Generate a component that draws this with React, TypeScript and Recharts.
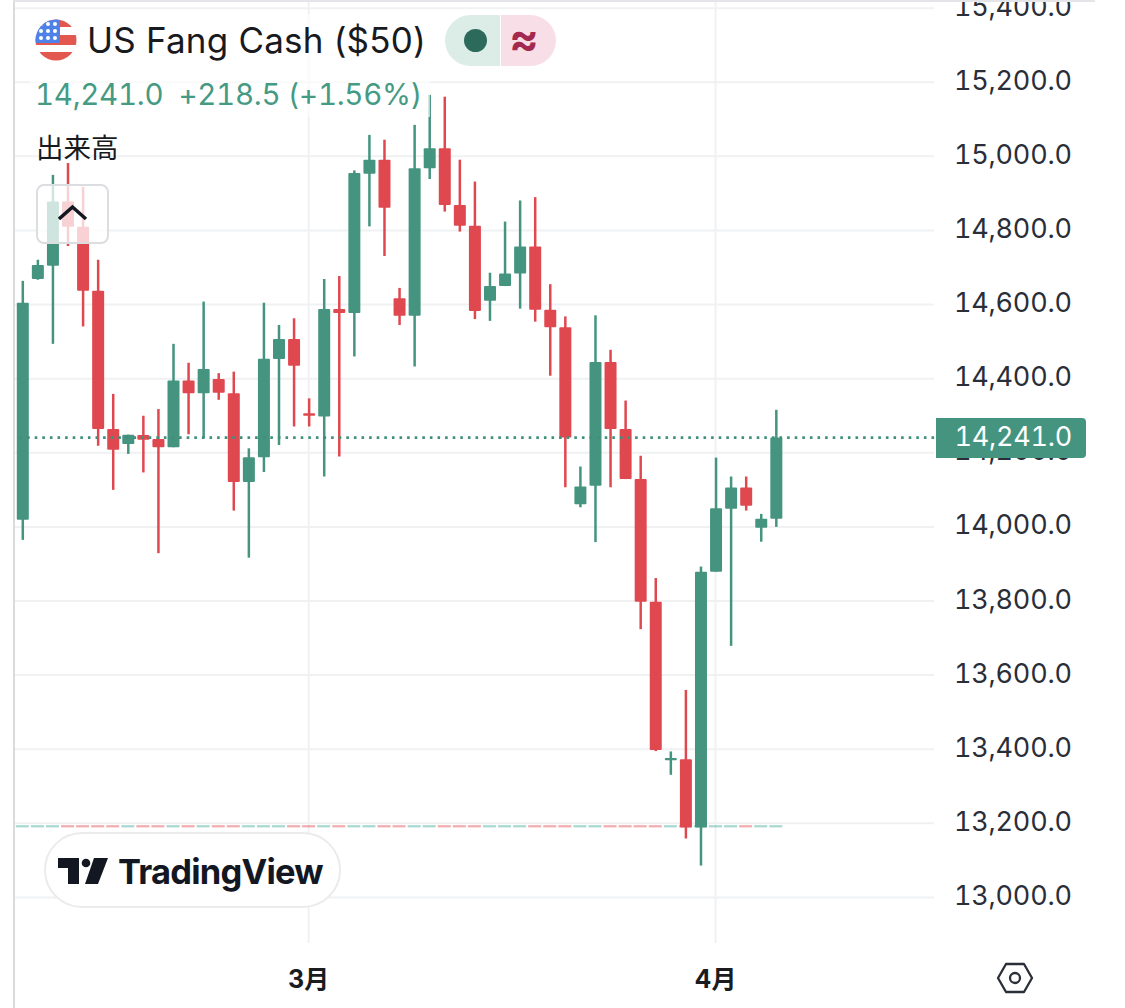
import React from 'react';
import { ComposedChart, Bar, XAxis, YAxis, CartesianGrid, ReferenceLine } from 'recharts';

const opens = [14019,14669,14705,14878,14810,14637,14264,14224,14248,14237,14215,14395,14361,14399,14361,14121,14188,14453,14507,14307,14298,14588,14577,14953,14991,14617,14570,14968,15022,14869,14813,14610,14650,14684,14757,14586,14539,14061,14111,14445,14264,14129,13798,13370,13373,13189,13879,14049,14106,13998,14022];
const highs = [14664,14721,14950,14982,14918,14721,14359,14249,14300,14318,14494,14443,14608,14415,14419,14212,14605,14545,14563,14347,14669,14677,14962,15058,15045,14645,15085,15166,15161,14991,14932,14686,14824,14881,14890,14655,14568,14163,14571,14478,14341,14192,13862,13394,13560,13893,14187,14136,14136,14035,14316];
const lows = [13965,14667,14494,14758,14541,14219,14100,14197,14147,13929,14215,14250,14239,14343,14044,13917,14148,14221,14271,14271,14136,14190,14460,14811,14731,14545,14433,14939,14851,14797,14561,14556,14650,14589,14554,14408,14107,14053,13959,14107,14129,13724,13395,13331,13159,13086,13879,13679,14044,13960,14000];
const closes = [14605,14707,14878,14810,14637,14264,14208,14249,14235,14215,14395,14361,14426,14362,14121,14188,14454,14507,14435,14300,14588,14577,14955,14991,14861,14570,14968,15022,14869,14813,14583,14650,14684,14757,14586,14539,14241,14109,14445,14264,14129,13798,13398,13376,13189,13879,14050,14106,14057,14022,14241];
const emptyBars = 10;
const priceTicks = [13000,13200,13400,13600,13800,14000,14200,14400,14600,14800,15000,15200,15400];
const monthTickIndexes = [19, 46];
const monthTickLabels = ['3月', '4月'];
const volumeBand = [13189, 13195];
const lastPrice = 14241;
const lastPriceLabel = '14,241.0';
const titleText = 'US Fang Cash ($50)';
const quoteText = '14,241.0  +218.5 (+1.56%)';
const volumeLabel = '出来高';
const brandText = 'TradingView';

const GREEN = '#45947F';
const RED = '#E04850';
const FONT = 'Inter, Roboto, sans-serif';

const rows = [
  ...opens.map((o, i) => ({ i, o, h: highs[i], l: lows[i], c: closes[i] })),
  ...Array.from({ length: emptyBars }, (_, k) => ({ i: opens.length + k } as any)),
];

const Candle = (props: any) => {
  const { x, y, width, height, payload } = props;
  if (payload == null || payload.o == null) return null;
  const top = Math.min(y, y + height);
  const h = Math.abs(height);
  const up = payload.c >= payload.o;
  const color = up ? GREEN : RED;
  const span = payload.h - payload.l || 1;
  const bodyHigh = Math.max(payload.o, payload.c);
  const bodyLow = Math.min(payload.o, payload.c);
  const by = top + ((payload.h - bodyHigh) / span) * h;
  const bh = Math.max(((bodyHigh - bodyLow) / span) * h, 2);
  const cx = x + width / 2;
  return (
    <g>
      <rect x={cx - 1.25} y={top} width={2.5} height={h} fill={color} />
      <rect x={x} y={by} width={width} height={bh} rx={1} fill={color} />
    </g>
  );
};

const VolumeDash = (props: any) => {
  const { x, y, width, height, payload } = props;
  if (payload == null || payload.o == null) return null;
  return <rect x={x} y={y} width={width} height={Math.abs(height)} fill={payload.c >= payload.o ? '#3fa99a' : RED} fillOpacity={0.45} />;
};

const PriceTick = (props: any) => {
  const { x, y, payload } = props;
  return (
    <text x={x} y={y} dy={7.6} fill="#2a2e39" fontSize={27} letterSpacing={-0.25} fontFamily={FONT} style={{ fontVariantNumeric: 'tabular-nums' }}>
      {payload.value.toLocaleString('en-US', { minimumFractionDigits: 1 })}
    </text>
  );
};

const abs = (s: any): any => ({ position: 'absolute', ...s });

export default function App() {
  return (
    <div style={abs({ left: 0, top: 0, width: 1125, height: 1008, background: '#fff', overflow: 'hidden', fontFamily: FONT })}>
      <ComposedChart width={1125} height={1008} data={rows} margin={{ top: 0, right: 0.9, bottom: 0, left: 14.8 }} barGap={0}>
        <CartesianGrid stroke="#f0f1f3" strokeWidth={2} syncWithTicks />
        <XAxis
          dataKey="i"
          type="category"
          ticks={monthTickIndexes}
          interval={0}
          height={65}
          axisLine={false}
          tickLine={false}
          tickSize={0}
          tickMargin={27}
          tickFormatter={(v: number) => monthTickLabels[monthTickIndexes.indexOf(v)] ?? ''}
          tick={{ fill: '#1a1c20', fontSize: 25, fontWeight: 700, fontFamily: 'Inter, "Noto Sans CJK JP", sans-serif' }}
        />
        <XAxis xAxisId="vol" dataKey="i" type="category" hide />
        <YAxis
          orientation="right"
          type="number"
          width={190}
          domain={[12877, 15422]}
          ticks={priceTicks}
          allowDataOverflow
          interval={0}
          axisLine={false}
          tickLine={false}
          tickSize={0}
          tickMargin={20}
          tick={<PriceTick />}
        />
        <Bar xAxisId="vol" dataKey={(d: any) => (d.o == null ? null : volumeBand)} barSize={13} shape={<VolumeDash />} isAnimationActive={false} />
        <Bar dataKey={(d: any) => (d.o == null ? null : [d.l, d.h])} barSize={12} shape={<Candle />} isAnimationActive={false} />
        <ReferenceLine y={lastPrice} stroke="#3f8f7b" strokeWidth={2.6} strokeDasharray="2.6 5" />
      </ComposedChart>

      <div style={abs({ left: 935.5, top: 418, width: 150, height: 39.5, background: GREEN, borderRadius: '0 4px 4px 0', color: '#fff', fontSize: 27, letterSpacing: -0.25, fontVariantNumeric: 'tabular-nums', lineHeight: '38px', textIndent: 19 })}>{lastPriceLabel}</div>

      <div style={abs({ left: 12.5, top: 0, width: 2.5, height: 1008, background: '#d9dbdf' })} />
      <div style={abs({ left: 13, top: 0, width: 1082, height: 1.5, background: '#e4e5e8' })} />

      <div style={abs({ left: 30, top: 14, width: 400, height: 103, background: 'rgba(255,255,255,0.6)' })} />
      <svg width={42} height={42} style={abs({ left: 35, top: 19 })}>
        <defs><clipPath id="flagClip"><circle cx={21} cy={21} r={20.5} /></clipPath></defs>
        <g clipPath="url(#flagClip)">
          <rect width={42} height={42} fill="#fff" />
          <rect y={0} width={42} height={8} fill="#E2584F" />
          <rect y={16} width={42} height={10} fill="#E2584F" />
          <rect y={33} width={42} height={9} fill="#E2584F" />
          <rect width={25} height={24} fill="#4F82E8" />
          {[5, 12, 19].flatMap((cy) => [6, 13, 20].map((cx) => <circle key={`${cx}-${cy}`} cx={cx} cy={cy} r={2} fill="#fff" />))}
        </g>
      </svg>
      <div style={abs({ left: 87, top: 18, fontSize: 35, letterSpacing: 0.2, lineHeight: '44px', color: '#181a20', whiteSpace: 'nowrap' })}>{titleText}</div>
      <div style={abs({ left: 445, top: 15, width: 55, height: 51, borderRadius: '26px 0 0 26px', background: '#dcede8' })} />
      <div style={abs({ left: 501, top: 15, width: 55, height: 51, borderRadius: '0 26px 26px 0', background: '#f8dfe7' })} />
      <div style={abs({ left: 464, top: 29, width: 23, height: 23, borderRadius: 12, background: '#2c6b5c' })} />
      <div style={abs({ left: 498, top: 15, width: 52, height: 51, lineHeight: '47px', textAlign: 'center', fontSize: 44, fontWeight: 700, color: '#a3294f' })}>≈</div>
      <div style={abs({ left: 35, top: 76, fontSize: 29.5, letterSpacing: -0.3, fontVariantNumeric: 'tabular-nums', lineHeight: '36px', color: '#459a84', whiteSpace: 'pre' })}>{quoteText}</div>
      <div style={abs({ left: 36, top: 129, fontSize: 27.5, lineHeight: '34px', color: '#181a20', fontFamily: '"Noto Sans CJK JP", sans-serif' })}>{volumeLabel}</div>
      <div style={abs({ left: 36, top: 184, width: 69, height: 56, border: '2px solid #dcdde0', borderRadius: 8, background: 'rgba(255,255,255,0.75)' })} />
      <svg width={30} height={20} style={abs({ left: 58, top: 203 })}>
        <path d="M1 16 L14.5 4 L28 16" fill="none" stroke="#131722" strokeWidth={3.5} />
      </svg>

      <div style={abs({ left: 44, top: 832, width: 293, height: 72, border: '2.5px solid #ebebeb', borderRadius: 38, background: '#fff' })} />
      <svg width={54} height={30} style={abs({ left: 57, top: 857 })}>
        <path d="M1 1H22V27H11V11H1Z" fill="#131722" />
        <circle cx={29} cy={6} r={4.3} fill="#131722" />
        <path d="M37 1H51L41 27H28Z" fill="#131722" />
      </svg>
      <div style={abs({ left: 118, top: 850, fontSize: 34.5, lineHeight: '44px', fontWeight: 700, letterSpacing: -0.8, color: '#131722', fontFamily: 'Inter, sans-serif' })}>{brandText}</div>

      <svg width={38} height={40} style={abs({ left: 996, top: 958 })}>
        <path d="M10 6H28L36 20L28 34H10L2 20Z" fill="none" stroke="#2a2e39" strokeWidth={2.3} strokeLinejoin="round" />
        <circle cx={19} cy={20} r={5} fill="none" stroke="#2a2e39" strokeWidth={2.3} />
      </svg>
    </div>
  );
}
